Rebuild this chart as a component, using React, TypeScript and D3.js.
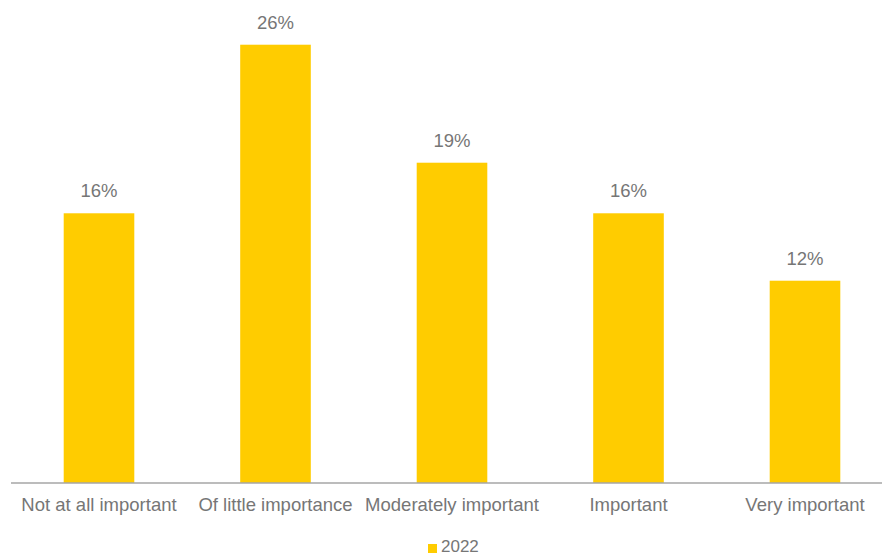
import React from "react";
import * as d3 from "d3";

const categories = ["Not at all important", "Of little importance", "Moderately important", "Important", "Very important"];
const values = [16, 26, 19, 16, 12];
const seriesName = "2022";

export default function App() {
  const W = 882, H = 555;
  const x = d3.scaleBand<string>().domain(categories).range([10.75, 893.25]).paddingInner(0.6).paddingOuter(0.3);
  const y = d3.scaleLinear().domain([0, 28]).range([483, 11]);
  const color = "#FFCC00";
  const textColor = "#767676";
  const font = "'Liberation Sans', Arial, sans-serif";
  return (
    <svg width={W} height={H} style={{ position: "absolute", left: 0, top: 0, background: "#fff" }} fontFamily={font}>
      {categories.map((c, i) => (
        <g key={c}>
          <rect x={x(c)!} y={y(values[i])} width={x.bandwidth()} height={y(0) - y(values[i])} fill={color} />
          <text x={x(c)! + x.bandwidth() / 2} y={y(values[i]) - 16} textAnchor="middle" fontSize={18.5} fill={textColor}>{values[i]}%</text>
          <text x={x(c)! + x.bandwidth() / 2} y={511} textAnchor="middle" fontSize={18.5} fill={textColor}>{c}</text>
        </g>
      ))}
      <line x1={11} x2={W} y1={483} y2={483} stroke="#A6A6A6" strokeWidth={1.5} />
      <rect x={428} y={544} width={9} height={9} fill={color} />
      <text x={441} y={552} fontSize={17} fill={textColor}>{seriesName}</text>
    </svg>
  );
}
